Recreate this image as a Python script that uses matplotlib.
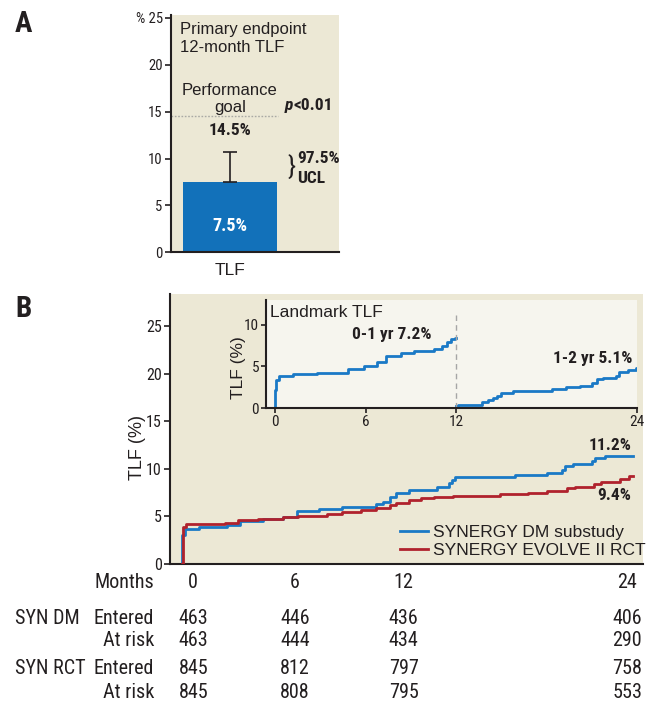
import matplotlib
matplotlib.use("Agg")
import matplotlib.pyplot as plt
from matplotlib import font_manager
from matplotlib.transforms import blended_transform_factory

# ---- data ----
tlf_rate = 7.5
tlf_ucl = 10.7
perf_goal = 14.5

# main KM curves (months, TLF %)
dm_t = [0, 0.02, 0.16, 0.92, 2.38, 3.09, 4.31, 5.38, 6.1, 7.3, 8.5, 10.3, 10.7, 11.07,
        11.4, 12.1, 13.55, 14.2, 14.35, 14.5, 17.7, 19.4, 20.2, 20.4, 20.8, 21.8, 22.0,
        22.5, 24.0]
dm_y = [0, 3.05, 3.65, 3.86, 4.1, 4.56, 4.7, 4.9, 5.6, 5.75, 6.03, 6.28, 6.56, 7.0,
        7.44, 7.8, 8.14, 8.5, 8.84, 9.15, 9.37, 9.6, 9.9, 10.3, 10.5, 10.87, 11.1,
        11.4, 11.4]
rct_t = [0, 0.04, 0.2, 2.29, 3.0, 4.04, 5.4, 6.17, 7.7, 8.5, 9.5, 10.3, 11.07, 11.4,
         12.1, 12.7, 13.4, 14.4, 16.9, 18.4, 19.4, 20.5, 20.9, 21.9, 22.3, 23.3, 23.8,
         24.0]
rct_y = [0, 3.86, 4.17, 4.35, 4.6, 4.7, 4.9, 5.05, 5.26, 5.5, 5.68, 5.86, 6.2, 6.46,
         6.7, 6.9, 7.1, 7.2, 7.35, 7.52, 7.68, 7.96, 8.14, 8.4, 8.67, 8.9, 9.26, 9.26]

# landmark curves
lm1_t = [0, 0.01, 0.03, 0.24, 1.17, 2.8, 4.83, 5.93, 6.78, 7.39, 8.36, 9.22, 10.56,
         11.05, 11.4, 11.66, 11.9, 12.0]
lm1_y = [0, 2.16, 3.36, 3.84, 4.08, 4.16, 4.68, 5.07, 5.55, 6.24, 6.56, 6.83, 7.07,
         7.43, 7.95, 8.24, 8.43, 8.43]
lm2_t = [12.0, 12.1, 13.7, 14.1, 14.45, 14.75, 14.95, 15.75, 18.34, 19.28, 20.2, 21.04,
         21.35, 21.76, 22.6, 22.8, 23.42, 23.94, 24.0]
lm2_y = [0.3, 0.4, 0.75, 1.0, 1.25, 1.5, 1.84, 2.1, 2.24, 2.48, 2.68, 2.96, 3.48, 3.64,
         3.88, 4.36, 4.56, 4.76, 4.76]

months = [0, 6, 12, 24]
dm_entered = [463, 446, 436, 406]
dm_atrisk = [463, 444, 434, 290]
rct_entered = [845, 812, 797, 758]
rct_atrisk = [845, 808, 795, 553]


# ---- fonts: look for a narrow face, else shrink a normal one ----
def pick_narrow():
    byname = {}
    for f in font_manager.fontManager.ttflist:
        byname.setdefault(f.name, []).append(f)
    for n in ["Liberation Sans Narrow", "Roboto Condensed", "Noto Sans Condensed",
              "DejaVu Sans Condensed", "Open Sans Condensed"]:
        if n in byname:
            return n, "normal", 1.0
    for n in ["Noto Sans", "DejaVu Sans", "Roboto", "Open Sans"]:
        if any(f.stretch in ("condensed", "semi-condensed") for f in byname.get(n, [])):
            return n, "condensed", 0.95
    return "Liberation Sans", "normal", 0.84


NARROW, STRETCH, K = pick_narrow()
REG = "Liberation Sans"
plt.rcParams["font.family"] = [NARROW, "DejaVu Sans"]
plt.rcParams["font.stretch"] = STRETCH

BEIGE = "#ece8d5"
LIGHT = "#f6f5ee"
BAR = "#1271ba"
BLUE = "#1a79c6"
RED = "#b0222d"
DARK = "#231f20"
plt.rcParams["text.color"] = DARK
plt.rcParams["axes.edgecolor"] = DARK
plt.rcParams["xtick.color"] = DARK
plt.rcParams["ytick.color"] = DARK

W, H = 658, 706
fig = plt.figure(figsize=(W / 100, H / 100), dpi=100)


def box(l, r, b, t):
    return [l / W, 1 - b / H, (r - l) / W, (b - t) / H]


NUM = 12.5 * K   # bold numbers
TAB = 14.5 * K   # risk table

# ---- panel A ----
axA = fig.add_axes(box(171, 339, 252.3, 15))
axA.set_facecolor(BEIGE)
axA.bar([0], [tlf_rate], width=0.8, color=BAR, zorder=2)
axA.errorbar([0], [tlf_rate], yerr=[[0], [tlf_ucl - tlf_rate]], fmt="none",
             ecolor=DARK, elinewidth=1.2, capsize=4.7, capthick=1.2, zorder=3)
axA.plot([-0.5, 0.41], [perf_goal, perf_goal], ls=(0, (1.2, 1.2)), color="#a9a9a4", lw=1)
axA.set_xlim(-0.5, 0.93)
axA.set_ylim(0, 25.3)
axA.set_yticks([0, 5, 10, 15, 20, 25])
axA.set_yticklabels(["0", "5", "10", "15", "20", "% 25"], fontsize=10.5 * K)
axA.set_xticks([0])
axA.set_xticklabels(["TLF"], family=REG, fontsize=12.5)
axA.tick_params(axis="x", length=0, pad=8)
axA.tick_params(axis="y", length=4, width=1.2, pad=2)
for s in ["top", "right"]:
    axA.spines[s].set_visible(False)
for s in ["left", "bottom"]:
    axA.spines[s].set_linewidth(1.5)

axA.text(-0.426, 24.6, "Primary endpoint\n12-month TLF", family=REG, fontsize=12,
         va="top", ha="left", linespacing=1.3)
axA.text(0, 16.35, "Performance\ngoal", family=REG, fontsize=12, ha="center",
         va="center", linespacing=1.2)
axA.text(0, 13.0, "14.5%", fontsize=NUM, weight="bold", ha="center", va="center")
axA.text(0.468, 15.6, "p", fontsize=NUM, weight="bold", style="italic",
         ha="left", va="center")
axA.text(0.545, 15.6, "<0.01", fontsize=NUM, weight="bold", ha="left", va="center")
axA.text(0.525, 9.1, "}", fontsize=19, ha="center", va="center", color=DARK)
axA.text(0.575, 9.95, "97.5%", fontsize=NUM, weight="bold", ha="left", va="center")
axA.text(0.575, 7.9, "UCL", fontsize=NUM, weight="bold", ha="left", va="center")
axA.text(0, 2.8, "7.5%", fontsize=13 * K, weight="bold", ha="center", va="center",
         color="white", zorder=4)

fig.text(15 / W, 1 - 10 / H, "A", fontsize=21 * K, weight="bold", va="top", ha="left")
fig.text(15 / W, 1 - 295 / H, "B", fontsize=21 * K, weight="bold", va="top", ha="left")

# ---- panel B ----
axB = fig.add_axes(box(170, 643, 564, 294))
axB.set_facecolor(BEIGE)
axB.step(dm_t, dm_y, where="post", color=BLUE, lw=2, label="SYNERGY DM substudy",
         zorder=2)
axB.step(rct_t, rct_y, where="post", color=RED, lw=2, label="SYNERGY EVOLVE II RCT",
         zorder=3)
axB.set_xlim(-0.639, 24.53)
axB.set_ylim(0, 28.4)
axB.set_yticks([0, 5, 10, 15, 20, 25])
axB.tick_params(axis="y", labelsize=11.5 * K, length=4, width=1.2, pad=2)
axB.set_xticks([])
for s in ["top", "right"]:
    axB.spines[s].set_visible(False)
for s in ["left", "bottom"]:
    axB.spines[s].set_linewidth(1.5)
fig.text(137 / W, 1 - 447 / H, "TLF (%)", family=REG, fontsize=13, rotation=90,
         ha="center", va="center")
axB.text(23.9, 12.5, "11.2%", fontsize=NUM, weight="bold", ha="right", va="center")
axB.text(23.9, 7.16, "9.4%", fontsize=NUM, weight="bold", ha="right", va="center")
axB.legend(loc="lower left", bbox_to_anchor=((400 - 170) / 473, 0.022),
           frameon=False, prop={"family": REG, "size": 12.5}, handlelength=1.6,
           handletextpad=0.3, labelspacing=0.18, borderpad=0, borderaxespad=0)

# inset
axI = fig.add_axes(box(266, 637, 408, 300), zorder=5)
axI.set_facecolor(LIGHT)
axI.step(lm1_t, lm1_y, where="post", color=BLUE, lw=2)
axI.step(lm2_t, lm2_y, where="post", color=BLUE, lw=2)
axI.plot([12, 12], [0, 11.1], ls=(0, (4, 3)), color="#a6a6a6", lw=1)
axI.set_xlim(-0.6, 24)
axI.set_ylim(0, 12.96)
axI.set_xticks(months)
axI.set_yticks([0, 5, 10])
axI.tick_params(labelsize=11 * K, length=3.5, width=1.2, pad=1.5)
for s in ["top", "right"]:
    axI.spines[s].set_visible(False)
for s in ["left", "bottom"]:
    axI.spines[s].set_linewidth(1.5)
axI.text(0.011, 0.88, "Landmark TLF", family=REG, fontsize=12.5, transform=axI.transAxes,
         ha="left", va="center")
axI.text(10.4, 8.76, "0-1 yr 7.2%", fontsize=NUM, weight="bold", ha="right", va="center")
axI.text(23.7, 6.0, "1-2 yr 5.1%", fontsize=NUM, weight="bold", ha="right", va="center")
fig.text(238 / W, 1 - 368 / H, "TLF (%)", family=REG, fontsize=12.5, rotation=90,
         ha="center", va="center")

# ---- risk table ----
tr = blended_transform_factory(axB.transData, fig.transFigure)
col_x = [0.6, 6.0, 11.8, 23.7]
rows = [(582, None, "Months", months),
        (619, "SYN DM", "Entered", dm_entered),
        (640, None, "At risk", dm_atrisk),
        (669, "SYN RCT", "Entered", rct_entered),
        (693, None, "At risk", rct_atrisk)]
for py, group, lab, vals in rows:
    yy = 1 - py / H
    if group:
        fig.text(15 / W, yy, group, fontsize=TAB, ha="left", va="center")
    fig.text(154 / W, yy, lab, fontsize=TAB, ha="right", va="center")
    for x, v in zip(col_x, vals):
        fig.text(x, yy, str(v), fontsize=TAB, ha="center", va="center", transform=tr)

fig.savefig("out.png", dpi=100)
